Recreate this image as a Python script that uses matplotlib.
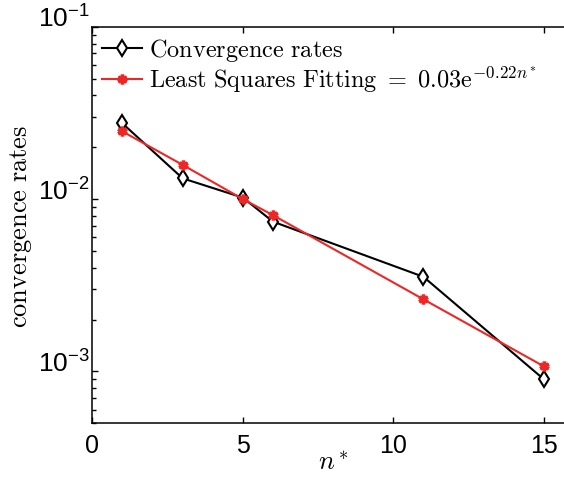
import matplotlib
matplotlib.use('Agg')
import matplotlib.pyplot as plt

plt.rcParams['font.family'] = 'Liberation Sans'

# data
n_star = [1, 3, 5, 6, 11, 15]
conv_rates = [0.0275, 0.0132, 0.0102, 0.0074, 0.00354, 0.00090]
ls_fit = [0.0247, 0.0158, 0.0100, 0.00807, 0.00262, 0.00107]

x_ticks = [0, 5, 10, 15]
y_ticks = [1e-3, 1e-2, 1e-1]

fig = plt.figure(figsize=(5.64, 4.81), dpi=100)
ax = fig.add_axes([0.1637, 0.1179, 0.854, 0.8243])

ax.plot(n_star, conv_rates, color='black', lw=1.5, marker='d', ms=8,
        mfc='white', mec='black', mew=1.5, label=r'$\mathrm{Convergence\ rates}$')
ax.plot(n_star, ls_fit, color='#ee2626', lw=1.5, marker=(6, 2, 0), ms=7,
        mec='#ee2626', mew=2.5,
        label=r'$\mathrm{Least\ Squares\ Fitting}\ =\ 0.03\mathrm{e}^{-0.22n^*}$')

ax.set_yscale('log')
ax.set_xlim(0, 16)
ax.set_ylim(5e-4, 1e-1)
ax.set_xticks(x_ticks)
ax.set_yticks(y_ticks)
ax.minorticks_on()
ax.xaxis.set_minor_locator(matplotlib.ticker.NullLocator())

# right spine falls outside the picture in the reference
ax.spines['right'].set_visible(False)
ax.tick_params(which='both', direction='in', top=True, right=False, width=1.0)
ax.tick_params(axis='x', which='major', length=4.5, pad=7, labelsize=18)
ax.tick_params(axis='y', which='major', length=4.5, pad=2, labelsize=19)
ax.tick_params(which='minor', length=2.8)
for s in ax.spines.values():
    s.set_linewidth(1.1)
# matlab puts the base "10" just above the tick
for lab in ax.get_yticklabels():
    lab.set_verticalalignment('baseline')

xl = ax.set_xlabel(r'$n^*$', fontsize=19, labelpad=-5)
yl = ax.set_ylabel(r'$\mathrm{convergence\ rates}$', fontsize=19, labelpad=3)
xl.set_math_fontfamily('cm')
yl.set_math_fontfamily('cm')

leg = ax.legend(loc='upper left', bbox_to_anchor=(0.0, 1.0), frameon=False,
                fontsize=17.5, handlelength=1.65, handletextpad=0.3,
                labelspacing=0.02, borderpad=0.0, borderaxespad=0.38)
for t in leg.get_texts():
    t.set_math_fontfamily('cm')

fig.savefig('out.png', dpi=100)
